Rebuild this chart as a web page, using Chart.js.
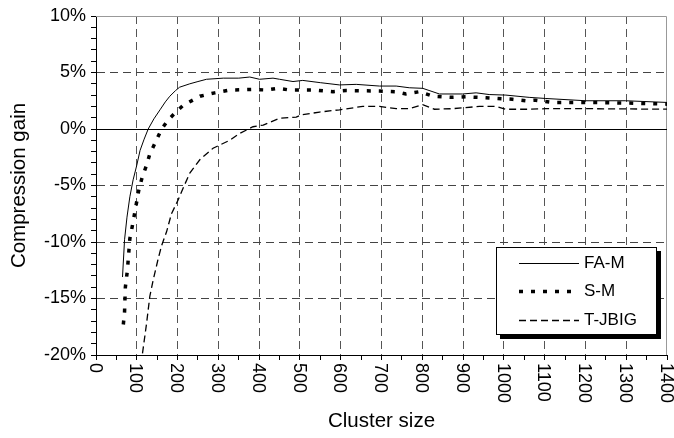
<!DOCTYPE html>
<html>
<head>
<meta charset="utf-8">
<script src="https://cdn.jsdelivr.net/npm/chart.js@4.4.1/dist/chart.umd.min.js"></script>
<style>
  html, body { margin: 0; padding: 0; background: #fff; }
  #wrap { width: 674px; height: 438px; }
</style>
</head>
<body>
<div id="wrap"><canvas id="chart"></canvas></div>
<script>
// Values (cluster size, compression gain in %).
var faX = [65, 70, 76, 83, 91, 100, 108, 118, 128, 142, 157, 170, 181, 195, 205, 230, 250, 271, 312, 350, 377, 401, 434, 450, 483, 507, 550, 597, 638, 695, 736, 768, 801, 842, 899, 932, 964, 1005, 1062, 1103, 1201, 1299, 1400];
var faY = [-13.1, -9.8, -7.8, -6.0, -4.5, -3.2, -1.9, -0.9, 0, 0.9, 1.7, 2.4, 2.9, 3.4, 3.7, 4.0, 4.2, 4.4, 4.5, 4.5, 4.6, 4.4, 4.5, 4.4, 4.2, 4.3, 4.1, 3.9, 3.95, 3.8, 3.8, 3.65, 3.6, 3.1, 3.1, 3.2, 3.05, 3.0, 2.8, 2.7, 2.5, 2.5, 2.35];

var smX = [67, 70, 72, 77, 83, 89, 94, 100, 105, 113, 124, 132, 144, 161, 177, 196, 214, 255, 291, 328, 385, 418, 446, 475, 532, 581, 613, 695, 736, 760, 793, 826, 875, 907, 956, 1021, 1054, 1078, 1119, 1201, 1299, 1400];
var smY = [-17.3, -16.2, -14.0, -12.5, -9.7, -8.6, -7.6, -6.4, -5.4, -4.3, -3.2, -2.2, -1.3, 0, 0.8, 1.5, 2.1, 2.9, 3.2, 3.45, 3.5, 3.45, 3.6, 3.45, 3.45, 3.3, 3.4, 3.36, 3.3, 3.1, 3.3, 2.9, 2.8, 2.85, 2.77, 2.63, 2.5, 2.55, 2.35, 2.35, 2.3, 2.2];

var tjX = [114, 124, 132, 140, 153, 161, 173, 185, 201, 214, 230, 255, 287, 328, 352, 385, 410, 450, 491, 503, 548, 597, 654, 695, 736, 768, 801, 830, 875, 940, 981, 1005, 1062, 1103, 1201, 1400];
var tjY = [-19.85, -17.2, -14.8, -13.4, -11.4, -10.3, -9.1, -7.5, -6.3, -5.2, -3.9, -2.7, -1.7, -1.0, -0.4, 0.2, 0.35, 0.95, 1.05, 1.24, 1.5, 1.7, 2.0, 2.0, 1.8, 1.8, 2.15, 1.75, 1.8, 2.0, 2.0, 1.75, 1.75, 1.8, 1.8, 1.75];

var seriesNames = ['FA-M', 'S-M', 'T-JBIG'];
var xTickLabels = ['0', '100', '200', '300', '400', '500', '600', '700', '800', '900', '1000', '1100', '1200', '1300', '1400'];

var FONT = '"Liberation Sans", Arial, sans-serif';

function pairs(xs, ys) {
    return xs.map(function (x, i) { return { x: x, y: ys[i] }; });
}

// Zero line, top/right frame, clockwise x labels and the boxed legend.
var decorPlugin = {
    id: 'decor',
    beforeDatasetsDraw: function (chart) {
        var ctx = chart.ctx, a = chart.chartArea, ys = chart.scales.y;
        ctx.save();
        ctx.lineWidth = 1;
        ctx.strokeStyle = '#999';
        ctx.beginPath();
        ctx.moveTo(a.left, a.top + 0.5);
        ctx.lineTo(a.right - 0.5, a.top + 0.5);
        ctx.lineTo(a.right - 0.5, a.bottom);
        ctx.stroke();
        var y0 = Math.round(ys.getPixelForValue(0)) + 0.5;
        ctx.strokeStyle = '#000';
        ctx.beginPath();
        ctx.moveTo(a.left, y0);
        ctx.lineTo(a.right, y0);
        ctx.stroke();
        ctx.restore();
    },
    afterDraw: function (chart) {
        var ctx = chart.ctx, a = chart.chartArea, xs = chart.scales.x;
        ctx.save();
        ctx.fillStyle = '#000';
        ctx.font = '18px ' + FONT;
        ctx.textAlign = 'left';
        ctx.textBaseline = 'alphabetic';
        xTickLabels.forEach(function (t) {
            var px = xs.getPixelForValue(Number(t));
            ctx.save();
            ctx.translate(px, a.bottom + 8);
            ctx.rotate(Math.PI / 2);
            ctx.fillText(t, 0, 6.3);
            ctx.restore();
        });

        // legend box
        var bw = 161, bh = 88;
        var bx = a.right - 10 - bw, by = a.bottom - 20 - bh;
        ctx.fillStyle = '#000';
        ctx.fillRect(bx + 4, by + 4, bw, bh);
        ctx.fillStyle = '#fff';
        ctx.fillRect(bx, by, bw, bh);
        ctx.strokeStyle = '#000';
        ctx.lineWidth = 1;
        ctx.strokeRect(bx + 0.5, by + 0.5, bw - 1, bh - 1);
        ctx.textBaseline = 'middle';
        var rows = [16, 44, 73];
        chart.data.datasets.forEach(function (ds, i) {
            var ly = by + rows[i] + 0.5;
            ctx.save();
            ctx.strokeStyle = '#000';
            ctx.lineWidth = ds.borderWidth;
            ctx.setLineDash(ds.borderDash || []);
            ctx.beginPath();
            ctx.moveTo(bx + 23, ly);
            ctx.lineTo(bx + 83, ly);
            ctx.stroke();
            ctx.restore();
            ctx.fillStyle = '#000';
            ctx.font = '17px ' + FONT;
            ctx.fillText(ds.label, bx + 88, ly);
        });
        ctx.restore();
    }
};

new Chart(document.getElementById('chart'), {
    type: 'line',
    data: {
        datasets: [{
            label: seriesNames[0],
            data: pairs(faX, faY),
            borderColor: '#000',
            borderWidth: 1,
            pointRadius: 0
        }, {
            label: seriesNames[1],
            data: pairs(smX, smY),
            borderColor: '#000',
            borderWidth: 3.5,
            borderDash: [4, 8],
            pointRadius: 0
        }, {
            label: seriesNames[2],
            data: pairs(tjX, tjY),
            borderColor: '#000',
            borderWidth: 1.3,
            borderDash: [7, 4],
            pointRadius: 0
        }]
    },
    options: {
        responsive: true,
        maintainAspectRatio: false,
        animation: false,
        layout: { padding: { left: 0, right: 7, top: 16, bottom: 0 } },
        plugins: {
            legend: { display: false },
            tooltip: { enabled: false }
        },
        scales: {
            x: {
                type: 'linear',
                min: 0,
                max: 1400,
                afterFit: function (s) { s.height = 83; },
                ticks: { stepSize: 50, display: false, autoSkip: false },
                grid: {
                    color: function (c) {
                        var v = c.tick ? c.tick.value : 0;
                        return (v % 100 === 0 && v > 0 && v < 1400) ? '#555' : 'rgba(0,0,0,0)';
                    },
                    tickColor: '#000',
                    tickLength: 5,
                    lineWidth: 1
                },
                border: { color: '#000', width: 1, dash: [8, 5] },
                title: {
                    display: true,
                    text: 'Cluster size',
                    color: '#000',
                    font: { family: FONT, size: 20.5 },
                    padding: { top: 0, bottom: 4 }
                }
            },
            y: {
                min: -20,
                max: 10,
                afterFit: function (s) { s.width = 96; },
                ticks: {
                    stepSize: 1,
                    autoSkip: false,
                    color: '#000',
                    padding: 5,
                    font: { family: FONT, size: 18 },
                    callback: function (v) { return v % 5 === 0 ? v + '%' : ''; }
                },
                grid: {
                    color: function (c) {
                        var v = c.tick ? c.tick.value : 0;
                        return (v % 5 === 0 && v !== 0 && v > -20 && v < 10) ? '#444' : 'rgba(0,0,0,0)';
                    },
                    tickColor: '#000',
                    tickLength: 5,
                    lineWidth: 1
                },
                border: { color: '#000', width: 1, dash: [8, 5] },
                title: {
                    display: true,
                    text: 'Compression gain',
                    color: '#000',
                    font: { family: FONT, size: 20.5 },
                    padding: { top: 7, bottom: 0 }
                }
            }
        }
    },
    plugins: [decorPlugin]
});
</script>
</body>
</html>
